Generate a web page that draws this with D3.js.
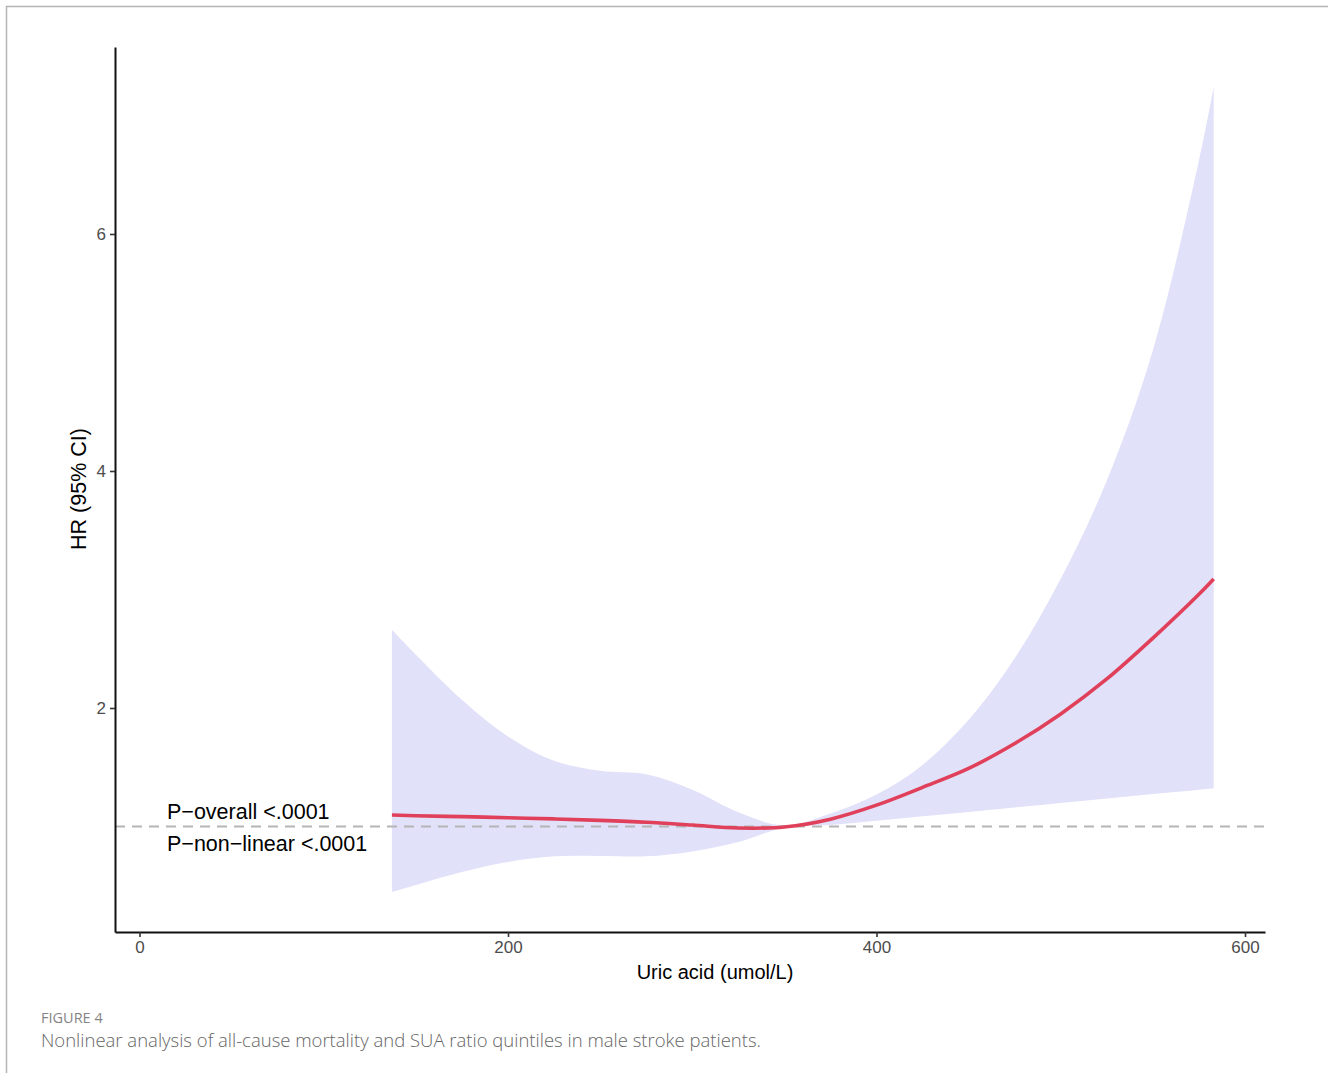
<!DOCTYPE html>
<html>
<head>
<meta charset="utf-8">
<script src="https://cdn.jsdelivr.net/npm/d3@7"></script>
<style>
  html, body { margin: 0; padding: 0; background: #ffffff; }
  svg { display: block; }
</style>
</head>
<body>
<svg id="chart" width="1328" height="1073"></svg>
<script>
// ---- data ----
const uricAcid = [137, 150, 175, 200, 225, 250, 275, 300, 325, 350, 375, 400, 425, 450, 475, 500, 525, 550, 575, 583];
const hr       = [1.097, 1.091, 1.083, 1.074, 1.064, 1.052, 1.036, 1.012, 0.987, 0.996, 1.062, 1.18, 1.33, 1.49, 1.70, 1.95, 2.245, 2.59, 2.96, 3.089];
const ciUpper  = [2.66, 2.45, 2.07, 1.76, 1.555, 1.47, 1.44, 1.31, 1.12, 1.01, 1.11, 1.27, 1.52, 1.90, 2.42, 3.09, 3.92, 5.02, 6.62, 7.24];
const ciLower  = [0.447, 0.506, 0.616, 0.70, 0.748, 0.752, 0.748, 0.79, 0.87, 0.99, 1.012, 1.049, 1.086, 1.123, 1.161, 1.198, 1.236, 1.274, 1.31, 1.322];
const xTicks = [0, 200, 400, 600];
const yTicks = [2, 4, 6];
const refHR = 1;
const annotations = ["P\u2212overall <.0001", "P\u2212non\u2212linear <.0001"];
const xTitle = "Uric acid (umol/L)";
const yTitle = "HR (95% CI)";
const figLabel = "FIGURE 4";
const caption = "Nonlinear analysis of all-cause mortality and SUA ratio quintiles in male stroke patients.";

const rows = uricAcid.map((x, i) => ({x, hr: hr[i], lo: ciLower[i], hi: ciUpper[i]}));

const svg = d3.select("#chart");

// frame
svg.append("rect").attr("x", 6.5).attr("y", 6.5).attr("width", 1340).attr("height", 1100)
  .attr("fill", "none").attr("stroke", "#b4b4b4").attr("stroke-width", 1.5);

const L = 115, R = 1265, T = 47, B = 932;
const x = d3.scaleLinear().domain([-13.3, 610.85]).range([L, R]);
const y = d3.scaleLinear().domain([0.1097, 7.578]).range([B, T]);
const smooth = d3.curveCatmullRom.alpha(0.5);

// CI band
svg.append("path").datum(rows)
  .attr("fill", "#e1e1fa")
  .attr("d", d3.area().curve(smooth).x(d => x(d.x)).y0(d => y(d.lo)).y1(d => y(d.hi)));

// reference line
svg.append("line").attr("x1", L).attr("x2", R).attr("y1", y(refHR)).attr("y2", y(refHR))
  .attr("stroke", "#b5b5b5").attr("stroke-width", 2.2).attr("stroke-dasharray", "10,7");

// HR curve
svg.append("path").datum(rows)
  .attr("fill", "none").attr("stroke", "#e0405a").attr("stroke-width", 3.6)
  .attr("d", d3.line().curve(smooth).x(d => x(d.x)).y(d => y(d.hr)));

// axes
const xAxis = svg.append("g").attr("transform", `translate(0,${B})`)
  .call(d3.axisBottom(x).tickValues(xTicks).tickSize(5).tickPadding(4).tickSizeOuter(0));
const yAxis = svg.append("g").attr("transform", `translate(${L},0)`)
  .call(d3.axisLeft(y).tickValues(yTicks).tickSize(5).tickPadding(4).tickSizeOuter(0));
[xAxis, yAxis].forEach(g => {
  g.select(".domain").attr("stroke", "#111").attr("stroke-width", 2);
  g.selectAll(".tick line").attr("stroke", "#333").attr("stroke-width", 1.6);
  g.selectAll(".tick text").attr("fill", "#4d4d4d").attr("font-family", "Liberation Sans, Arial, sans-serif").attr("font-size", 17);
});

// axis titles
svg.append("text").attr("x", 715).attr("y", 979).attr("text-anchor", "middle")
  .attr("font-family", "Liberation Sans, Arial, sans-serif").attr("font-size", 20).attr("fill", "#000")
  .text(xTitle);
svg.append("text").attr("transform", "translate(86,489) rotate(-90)").attr("text-anchor", "middle")
  .attr("font-family", "Liberation Sans, Arial, sans-serif").attr("font-size", 21.5).attr("fill", "#000")
  .text(yTitle);

// annotations
svg.selectAll("text.annot").data(annotations).enter().append("text").attr("class", "annot")
  .attr("x", 167).attr("y", (d, i) => 819 + i * 32)
  .attr("font-family", "Liberation Sans, Arial, sans-serif").attr("font-size", 21.5).attr("fill", "#000")
  .text(d => d);

// caption
svg.append("text").attr("x", 41).attr("y", 1023)
  .attr("font-family", "Open Sans, sans-serif").attr("font-size", 14.5).attr("fill", "#858585")
  .text(figLabel);
svg.append("text").attr("x", 41).attr("y", 1047)
  .attr("font-family", "Open Sans, sans-serif").attr("font-weight", 300).attr("font-size", 18.5).attr("fill", "#666")
  .text(caption);
</script>
</body>
</html>
